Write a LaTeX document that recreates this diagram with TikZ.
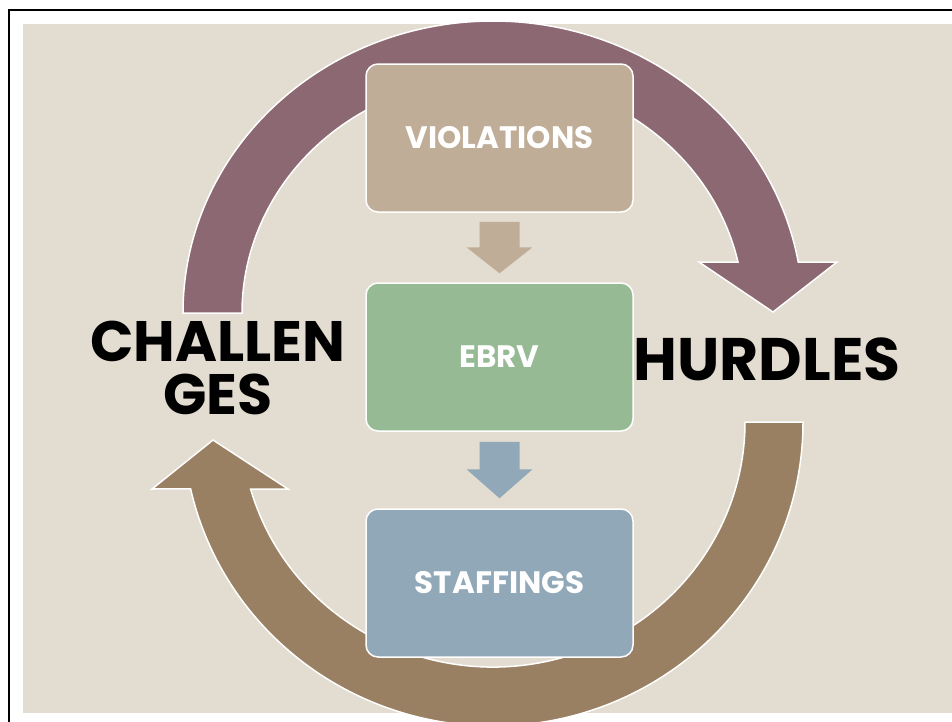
\documentclass[tikz,border=0pt]{standalone}
\usepackage{fontspec}
\setmainfont{Poppins}
\usetikzlibrary{calc}

\definecolor{bgbeige}{HTML}{E3DCD0}
\definecolor{arcpurple}{HTML}{8C6872}
\definecolor{arcbrown}{HTML}{9A8063}
\definecolor{boxtan}{HTML}{BFAD97}
\definecolor{boxgreen}{HTML}{96BB94}
\definecolor{boxblue}{HTML}{91A8B8}

\begin{document}
\begin{tikzpicture}[x=1pt,y=-1pt,
  box/.style={rectangle,draw=white,line width=1.5pt,rounded corners=12pt,minimum width=267pt,minimum height=148pt,text=white,font=\bfseries\fontsize{31}{31}\selectfont},
  bigarc/.style={draw=white,line width=1.5pt},
  word/.style={align=center,font=\bfseries\fontsize{57}{53}\selectfont}]
  \useasboundingbox (0,0) rectangle (952,721);
  \draw[line width=2pt] (9,10) rectangle (980,740); % frame
  \fill[bgbeige] (23,24) rectangle (952,713);

  \coordinate (ct) at (493,313);
  \coordinate (cb) at (493,422);
  \fill[arcpurple,bigarc] ($(ct)+(180:310pt and 292pt)$) arc[start angle=180,end angle=10.06,x radius=310pt,y radius=292pt] -- (837,262) -- (773,312) -- (699,262) -- ($(ct)+(12.53:251pt and 235pt)$) arc[start angle=12.53,end angle=180,x radius=251pt,y radius=235pt] -- cycle; % top arrow
  \fill[arcbrown,bigarc] ($(cb)+(0:252pt and 245pt)$) -- ($(cb)+(0:310pt and 304pt)$) arc[start angle=0,end angle=-167.3,x radius=310pt,y radius=304pt] -- (152,489) -- (213,440) -- (288,489) -- ($(cb)+(-164.13:252pt and 245pt)$) arc[start angle=-164.13,end angle=0,x radius=252pt,y radius=245pt] -- cycle; % bottom arrow

  \node[box,fill=boxtan] (viol) at (499.5,138) {VIOLATIONS};
  \node[box,fill=boxgreen] (ebrv) at (499.5,357) {EBRV};
  \node[box,fill=boxblue] (staff) at (499.5,583) {STAFFINGS};

  \fill[boxtan] ([shift={(-20pt,-9pt)}]viol.south) -- ([shift={(20pt,-9pt)}]viol.south) |- ([shift={(33pt,35pt)}]ebrv.north) -- ([yshift=9pt]ebrv.north) -- ([shift={(-33pt,35pt)}]ebrv.north) -| cycle; % down arrow
  \fill[boxblue] ([shift={(-20pt,-10pt)}]ebrv.south) -- ([shift={(20pt,-10pt)}]ebrv.south) |- ([shift={(33pt,39pt)}]staff.north) -- ([yshift=10pt]staff.north) -- ([shift={(-33pt,39pt)}]staff.north) -| cycle; % down arrow

  \node[word] (chal) at (218,368) {CHALLEN\\GES};
  \node[word,font=\bfseries\fontsize{60}{60}\selectfont] (hurd) at (767,359) {HURDLES};
\end{tikzpicture}
\end{document}
